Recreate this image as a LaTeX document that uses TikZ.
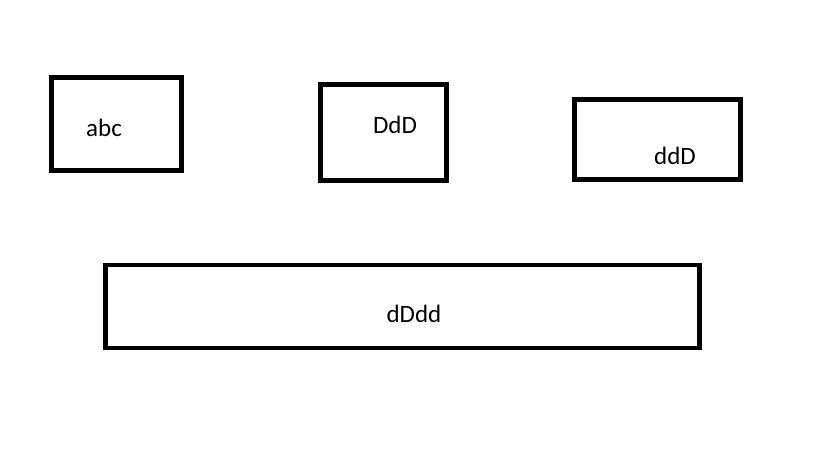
\documentclass[tikz,border=0pt]{standalone}
\usepackage{fontspec}
\setmainfont{Carlito}
\begin{document}
\begin{tikzpicture}[x=1pt,y=-1pt,
  box/.style={draw=black,line width=4.8pt,rectangle,inner sep=0pt,outer sep=0pt,fill=none},
  lbl/.style={anchor=base,inner sep=0pt,font=\fontsize{25pt}{30pt}\selectfont,text=black}]
\useasboundingbox[fill=white] (0,0) rectangle (819,460);
\node[box,minimum width=130pt,minimum height=93pt] (b1) at (116.5,124) {};
\node[box,minimum width=126pt,minimum height=96pt] (b2) at (383.5,132.5) {};
\node[box,minimum width=166pt,minimum height=80pt] (b3) at (657.5,139.5) {};
\node[box,minimum width=594pt,minimum height=83pt] (b4) at (402.5,306.5) {};
\node[lbl] (t1) at (104,136) {abc};
\node[lbl] (t2) at (395,133) {DdD};
\node[lbl] (t3) at (675,164) {ddD};
\node[lbl] (t4) at (414,322) {dDdd};
\end{tikzpicture}
\end{document}
